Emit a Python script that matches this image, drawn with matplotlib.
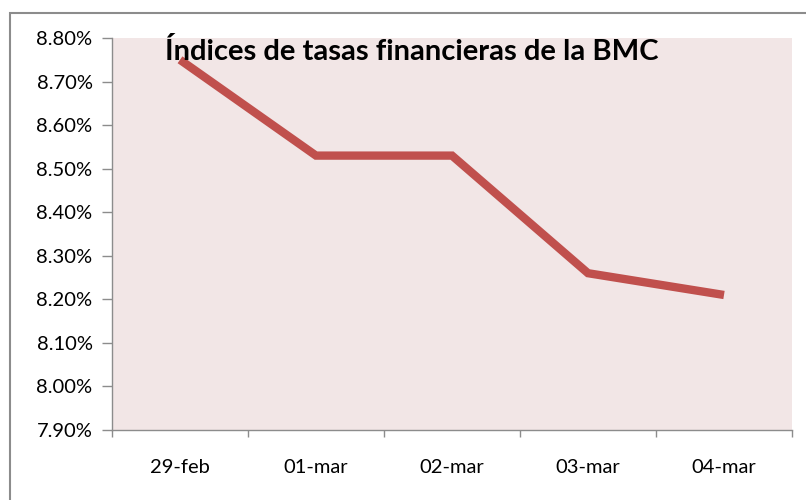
import matplotlib.pyplot as plt
from matplotlib.ticker import FuncFormatter
from matplotlib.patches import Rectangle

# -----------------------------
# Data
# -----------------------------
dates = ['29-feb', '01-mar', '02-mar', '03-mar', '04-mar']
rates = [8.75, 8.53, 8.53, 8.26, 8.21]
y_ticks = [7.90, 8.00, 8.10, 8.20, 8.30, 8.40, 8.50, 8.60, 8.70, 8.80]

plt.rcParams['font.family'] = ['Lato', 'DejaVu Sans']

W, H = 806, 500
fig = plt.figure(figsize=(W / 100, H / 100), dpi=100)

# outer chart border (only top and left are visible)
fig.patches.append(Rectangle((10 / W, -0.2), 1.2, 0.2 + (H - 13) / H, transform=fig.transFigure,
                             fill=False, edgecolor='#8c8c8c', linewidth=1.5))

# plot area
ax = fig.add_axes([112 / W, (H - 430) / H, 680 / W, 392 / H])
ax.set_facecolor('#f2e6e6')

x = range(len(dates))
ax.plot(x, rates, color='#c0504d', linewidth=6, solid_capstyle='butt',
        solid_joinstyle='miter')

ax.set_xlim(-0.5, len(dates) - 0.5)
ax.set_ylim(7.90, 8.80)
ax.set_yticks(y_ticks)
ax.yaxis.set_major_formatter(FuncFormatter(lambda v, p: f'{v:.2f}%'))

# category axis: ticks between categories, labels centered
ax.set_xticks([i - 0.5 for i in range(len(dates) + 1)])
ax.set_xticklabels([])
ax.set_xticks(list(x), minor=True)
ax.set_xticklabels(dates, minor=True)
ax.tick_params(axis='x', which='minor', length=0, pad=21, labelsize=14.5)
ax.tick_params(axis='x', which='major', length=5, color='#8c8c8c', width=1)
ax.tick_params(axis='y', length=7, color='#8c8c8c', width=1, labelsize=14.5, pad=7)

for s in ['top', 'right']:
    ax.spines[s].set_visible(False)
for s in ['left', 'bottom']:
    ax.spines[s].set_color('#8c8c8c')
    ax.spines[s].set_linewidth(1)

ax.text(0.078, 0.965, 'Índices de tasas financieras de la BMC', transform=ax.transAxes,
        fontsize=21, fontweight='bold', ha='left', va='center')

fig.savefig('out.png', dpi=100)
